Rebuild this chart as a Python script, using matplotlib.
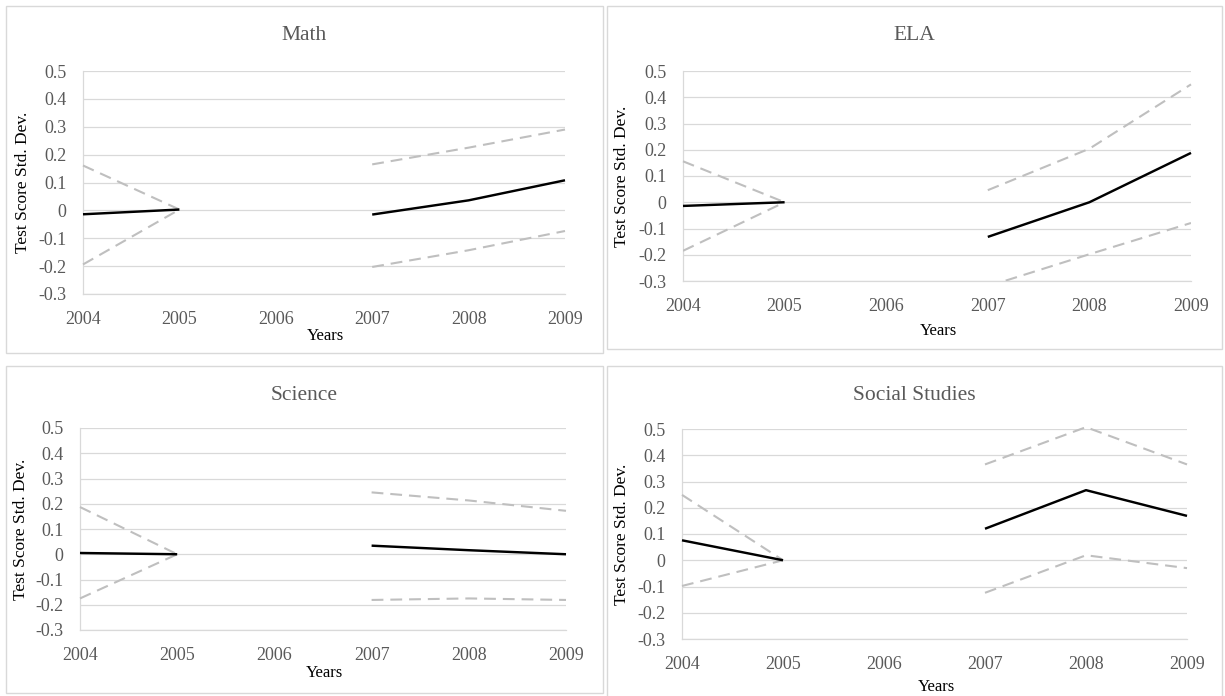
import matplotlib
matplotlib.use("Agg")
import matplotlib.pyplot as plt
import numpy as np

plt.rcParams['font.family'] = ['Liberation Serif', 'DejaVu Serif']
plt.rcParams['lines.scale_dashes'] = False

years = [2004, 2005, 2006, 2007, 2008, 2009]
year_labels = ["2004", "2005", "2006", "2007", "2008", "2009"]
y_ticks = [-0.3, -0.2, -0.1, 0, 0.1, 0.2, 0.3, 0.4, 0.5]
y_tick_labels = ["-0.3", "-0.2", "-0.1", "0", "0.1", "0.2", "0.3", "0.4", "0.5"]

# Point estimates and confidence bounds; 2006 has no data (None)
math_est = [-0.014, 0.003, None, -0.015, 0.036, 0.108]
math_hi = [0.161, 0.003, None, 0.165, 0.225, 0.290]
math_lo = [-0.194, 0.003, None, -0.203, -0.143, -0.074]

ela_est = [-0.014, 0.0, None, -0.132, 0.0, 0.188]
ela_hi = [0.156, 0.0, None, 0.046, 0.204, 0.449]
ela_lo = [-0.185, 0.0, None, -0.320, -0.198, -0.079]

sci_est = [0.005, 0.0, None, 0.034, 0.016, 0.0]
sci_hi = [0.187, 0.0, None, 0.245, 0.213, 0.172]
sci_lo = [-0.175, 0.0, None, -0.181, -0.175, -0.181]

soc_est = [0.076, 0.0, None, 0.120, 0.267, 0.169]
soc_hi = [0.249, 0.0, None, 0.365, 0.507, 0.365]
soc_lo = [-0.098, 0.0, None, -0.124, 0.019, -0.030]

W, H = 1225, 696
fig = plt.figure(figsize=(W / 100, H / 100), dpi=100)
fig.patch.set_facecolor("white")

GRID = "#D9D9D9"
TXT = "#595959"
DASH = "#BFBFBF"


def px_axes(x0, y0, x1, y1):
    return fig.add_axes([x0 / W, 1 - y1 / H, (x1 - x0) / W, (y1 - y0) / H])


def box(x0, y0, x1, y1):
    r = plt.Rectangle((x0 / W, 1 - y1 / H), (x1 - x0) / W, (y1 - y0) / H,
                      transform=fig.transFigure, fill=False,
                      edgecolor=GRID, linewidth=1.0)
    fig.add_artist(r)


def series(vals):
    return np.array([np.nan if v is None else v for v in vals], dtype=float)


def panel(title, est, hi, lo, frame, plot, title_y, ylab_x, xlab_xy):
    box(*frame)
    fig.text(((frame[0] + frame[2]) / 2) / W, 1 - title_y / H, title,
             ha="center", va="center", fontsize=15.5, color=TXT)
    ax = px_axes(*plot)
    x = np.array(years, dtype=float)
    for vals in (hi, lo):
        arr = series(vals)
        below = np.nanmin(arr) < -0.3
        ax.plot(x, arr, color=DASH, lw=1.5, dashes=(8.5, 5.0),
                clip_on=below, zorder=3)
    ax.plot(x, series(est), color="black", lw=1.75, clip_on=False, zorder=4,
            solid_capstyle="butt")
    ax.set_xlim(2004, 2009)
    ax.set_ylim(-0.3, 0.5)
    ax.set_xticks(years)
    ax.set_xticklabels(year_labels)
    ax.set_yticks(y_ticks)
    ax.set_yticklabels(y_tick_labels)
    ax.tick_params(axis="both", length=0, labelsize=13, colors=TXT)
    ax.tick_params(axis="y", pad=12)
    ax.tick_params(axis="x", pad=12)
    ax.grid(axis="y", color=GRID, lw=0.9)
    ax.set_axisbelow(True)
    for s in ("top", "right"):
        ax.spines[s].set_visible(False)
    for s in ("left", "bottom"):
        ax.spines[s].set_color(GRID)
        ax.spines[s].set_linewidth(0.9)
    cy = (plot[1] + plot[3]) / 2
    fig.text(ylab_x / W, 1 - cy / H, "Test Score Std. Dev.", rotation=90,
             ha="center", va="center", fontsize=12.5, color="black")
    fig.text(xlab_xy[0] / W, 1 - xlab_xy[1] / H, "Years",
             ha="center", va="center", fontsize=12, color="black")
    return ax


panel("Math", math_est, math_hi, math_lo,
      frame=(6, 6, 603, 353), plot=(83, 71, 565, 294),
      title_y=36, ylab_x=23, xlab_xy=(325, 336))
panel("ELA", ela_est, ela_hi, ela_lo,
      frame=(607, 6, 1222, 349), plot=(683, 71, 1191, 281),
      title_y=36, ylab_x=622, xlab_xy=(938, 331))
panel("Science", sci_est, sci_hi, sci_lo,
      frame=(6, 366, 603, 693), plot=(80, 428, 566, 630),
      title_y=395, ylab_x=21, xlab_xy=(324, 673))
panel("Social Studies", soc_est, soc_hi, soc_lo,
      frame=(607, 366, 1222, 710), plot=(682, 429, 1187, 639),
      title_y=395, ylab_x=622, xlab_xy=(936, 687))

fig.savefig("out.png", dpi=100, facecolor="white")
